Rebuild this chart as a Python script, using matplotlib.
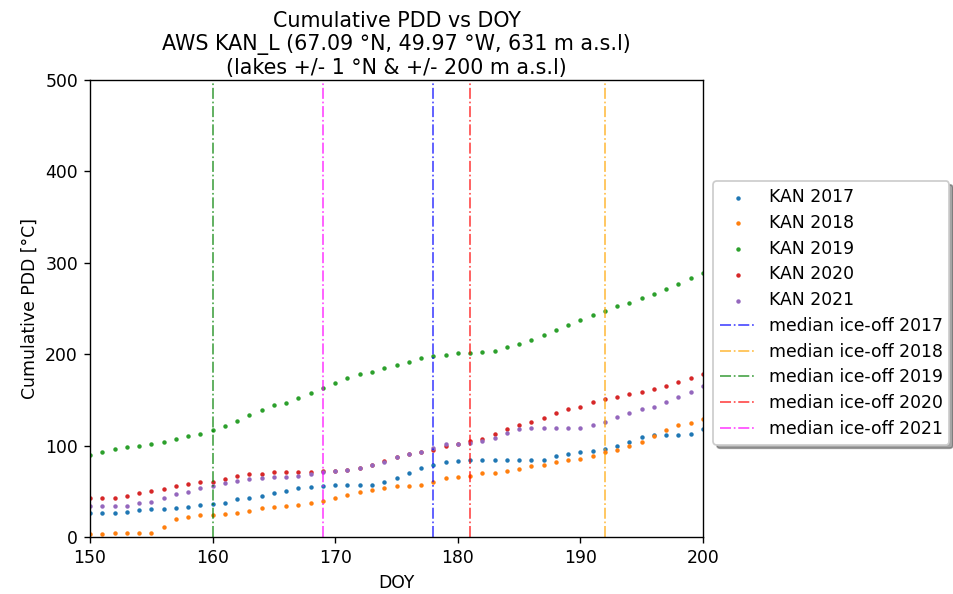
import matplotlib
matplotlib.use("Agg")
import matplotlib.pyplot as plt
import numpy as np

doy = list(range(150, 201))

kan_2017 = [26.3, 26.3, 26.3, 27.7, 29.2, 30.6, 30.6, 31.7, 33.2, 34.7, 35.8, 37.2, 41.2, 42.7, 45.2, 47.8, 50.7,
            53.3, 54.7, 56.1, 57.2, 57.2, 57.2, 57.2, 60.2, 64.2, 69.7, 75.2, 79.1, 81.7, 83.2, 84.6, 84.6, 84.6,
            84.6, 84.6, 84.6, 84.6, 88.6, 91.1, 92.7, 94.1, 96.6, 99.6, 103.6, 109.1, 111.6, 111.6, 111.6, 113.0, 118.2]
kan_2018 = [3.0, 3.0, 4.4, 4.4, 4.4, 4.4, 11.3, 19.4, 22.2, 23.7, 23.7, 24.8, 26.3, 28.8, 31.7, 33.2, 33.8,
            34.5, 36.9, 39.7, 42.3, 46.3, 49.2, 51.8, 53.3, 56.1, 56.1, 57.2, 60.2, 64.2, 65.6, 67.1, 69.7, 69.7,
            72.2, 74.7, 77.7, 78.8, 81.7, 84.2, 85.7, 88.3, 92.7, 95.2, 99.2, 103.6, 110.2, 117.1, 122.5, 125.1, 129.1]
kan_2019 = [89.7, 92.7, 96.6, 98.1, 99.2, 102.1, 103.6, 107.5, 110.2, 113.0, 117.1, 121.1, 126.6, 133.5, 138.7, 144.1, 146.6,
            152.1, 157.5, 163.0, 168.5, 174.0, 178.0, 180.5, 184.6, 188.5, 191.5, 195.5, 198.4, 199.5, 201.0, 201.0, 202.4, 203.8,
            207.5, 211.5, 215.9, 221.0, 226.5, 231.9, 237.4, 242.9, 246.9, 252.4, 256.3, 261.8, 265.9, 271.3, 276.8, 283.7, 288.8]
kan_2020 = [42.7, 42.7, 42.7, 45.2, 47.8, 50.7, 52.2, 56.1, 57.7, 60.2, 60.2, 63.1, 67.1, 68.6, 68.6, 71.1, 71.1,
            71.1, 71.1, 72.2, 72.5, 73.6, 75.2, 78.8, 83.2, 87.2, 90.8, 92.7, 95.2, 99.2, 102.1, 104.7, 107.2, 112.7,
            118.2, 122.2, 126.1, 130.5, 135.7, 140.0, 142.6, 148.0, 151.0, 153.5, 156.1, 159.0, 161.6, 165.5, 169.6, 173.6, 178.0]
kan_2021 = [34.2, 34.2, 34.2, 34.2, 37.2, 38.6, 42.7, 46.7, 49.2, 53.3, 56.1, 58.8, 61.6, 63.1, 64.2, 65.6, 65.6,
            67.1, 68.6, 70.8, 72.2, 73.6, 75.2, 78.8, 81.7, 87.2, 90.8, 92.7, 97.4, 102.1, 102.1, 103.2, 105.0, 108.6,
            114.1, 118.2, 119.6, 119.6, 119.6, 119.6, 119.6, 122.2, 126.1, 131.6, 135.7, 140.0, 142.6, 148.0, 153.5, 159.0, 165.5]

years = [2017, 2018, 2019, 2020, 2021]
series = [kan_2017, kan_2018, kan_2019, kan_2020, kan_2021]
ice_off = [178, 192, 160, 181, 169]
ice_colors = ["blue", "orange", "green", "red", "magenta"]

DPI = 124
fig = plt.figure(figsize=(953 / DPI, 594 / DPI), dpi=DPI)
ax = fig.add_axes([90 / 953, 57 / 594, 613 / 953, 457 / 594])

for yr, vals in zip(years, series):
    ax.scatter(doy, vals, s=2.5, label=f"KAN {yr}")

for yr, d, c in zip(years, ice_off, ice_colors):
    ax.axvline(d, color=c, linestyle="-.", linewidth=1.0, alpha=0.7, label=f"median ice-off {yr}")

ax.set_xlim(150, 200)
ax.set_ylim(0, 500)
ax.set_xlabel("DOY")
ax.set_ylabel("Cumulative PDD [°C]")
ax.set_title("Cumulative PDD vs DOY\nAWS KAN_L (67.09 °N, 49.97 °W, 631 m a.s.l)\n(lakes +/- 1 °N & +/- 200 m a.s.l)",
             fontsize=12, pad=3.5)
ax.legend(loc="center left", bbox_to_anchor=(1.003, 0.49), shadow=True,
          labelspacing=0.45, borderpad=0.4)

fig.savefig("out.png", dpi=DPI)
